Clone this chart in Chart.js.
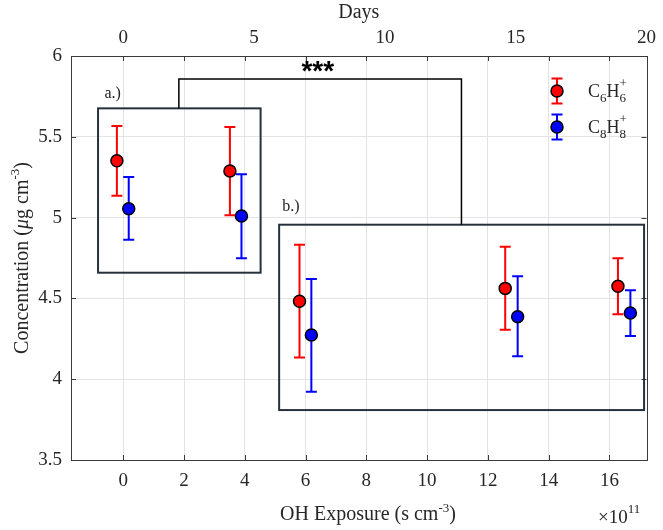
<!DOCTYPE html>
<html><head><meta charset="utf-8">
<script src="https://cdn.jsdelivr.net/npm/chart.js@4"></script>
<style>html,body{margin:0;padding:0;background:#fff}#wrap{width:663px;height:530px}</style>
</head><body><div id="wrap"><canvas id="c" width="663" height="530"></canvas></div>
<script>
// ---- data ----
const exposureC6H6 = [-0.21, 3.51, 5.80, 12.57, 16.28];      // ×10^11 s cm^-3
const concC6H6     = [5.352, 5.288, 4.482, 4.562, 4.575];
const lowC6H6      = [5.135, 5.014, 4.135, 4.306, 4.402];
const highC6H6     = [5.567, 5.561, 4.832, 4.820, 4.748];

const exposureC8H8 = [0.18, 3.89, 6.19, 12.98, 16.69];
const concC8H8     = [5.055, 5.010, 4.274, 4.387, 4.410];
const lowC8H8      = [4.863, 4.748, 3.923, 4.142, 4.267];
const highC8H8     = [5.251, 5.268, 4.620, 4.637, 4.550];

const exposureTicks = [0, 2, 4, 6, 8, 10, 12, 14, 16];
const dayTicks      = [0, 5, 10, 15, 20];
const concTicks     = [3.5, 4, 4.5, 5, 5.5, 6];

// ---- annotation config (data units) ----
const panelA = {x0: -0.83, x1: 4.52, y0: 4.659, y1: 5.676, label: 'a.)', lx: -0.35, ly: 5.765};
const panelB = {x0: 5.13, x1: 17.14, y0: 3.809, y1: 4.956, label: 'b.)', lx: 5.52, ly: 5.066};
const bracket = {xl: 1.83, xr: 11.13, ytop: 5.858, starsX: 6.40, starsY: 5.93, text: '***'};

const SERIF = '"Liberation Serif", "Times New Roman", serif';
const AXIS_COLOR = '#3a3a3a';
const GRID_COLOR = '#e3e3e3';

function richWidth(ctx, parts) {
  let w = 0;
  for (const p of parts) { ctx.font = p.font; if (!p.stackWithPrev) w += ctx.measureText(p.t).width; }
  return w;
}
function drawRich(ctx, parts, x, y, align) {
  let w = richWidth(ctx, parts);
  let cx = align === 'center' ? x - w / 2 : (align === 'right' ? x - w : x);
  ctx.textBaseline = 'alphabetic';
  ctx.textAlign = 'left';
  let prevX = cx;
  for (const p of parts) {
    ctx.font = p.font;
    const px = p.stackWithPrev ? prevX : cx;
    ctx.fillText(p.t, px, y + (p.dy || 0));
    if (!p.stackWithPrev) { prevX = cx; cx += ctx.measureText(p.t).width; }
  }
}

function drawErrorBar(ctx, x, yLo, yHi, color, half) {
  ctx.save();
  ctx.strokeStyle = color; ctx.lineWidth = 2;
  ctx.beginPath();
  ctx.moveTo(x, yLo); ctx.lineTo(x, yHi);
  ctx.moveTo(x - half, yLo); ctx.lineTo(x + half, yLo);
  ctx.moveTo(x - half, yHi); ctx.lineTo(x + half, yHi);
  ctx.stroke();
  ctx.restore();
}

const errorBarPlugin = {
  id: 'errorBars',
  beforeDatasetsDraw(chart) {
    const ctx = chart.ctx, xs = chart.scales.x, ys = chart.scales.y;
    chart.data.datasets.forEach(ds => {
      ds.data.forEach((pt, j) => {
        const x = xs.getPixelForValue(pt.x);
        drawErrorBar(ctx, x, ys.getPixelForValue(ds.errLow[j]), ys.getPixelForValue(ds.errHigh[j]), ds.barColor, 5.5);
      });
    });
  }
};

const decorPlugin = {
  id: 'decor',
  beforeDatasetsDraw(chart) {
    const ctx = chart.ctx, xs = chart.scales.x, ys = chart.scales.y, ca = chart.chartArea;
    ctx.save();
    // frame
    ctx.strokeStyle = AXIS_COLOR; ctx.lineWidth = 1;
    ctx.strokeRect(Math.round(ca.left) + 0.5, Math.round(ca.top) + 0.5, Math.round(ca.right - ca.left), Math.round(ca.bottom - ca.top));
    // inward ticks
    ctx.beginPath();
    exposureTicks.forEach(v => {
      const x = Math.round(xs.getPixelForValue(v)) + 0.5;
      ctx.moveTo(x, ca.bottom); ctx.lineTo(x, ca.bottom - 5);
      ctx.moveTo(x, ca.top); ctx.lineTo(x, ca.top + 5);
    });
    concTicks.forEach(v => {
      const y = Math.round(ys.getPixelForValue(v)) + 0.5;
      ctx.moveTo(ca.left, y); ctx.lineTo(ca.left + 5, y);
      ctx.moveTo(ca.right, y); ctx.lineTo(ca.right - 5, y);
    });
    ctx.stroke();
    // panel boxes
    ctx.strokeStyle = '#26313d'; ctx.lineWidth = 2;
    [panelA, panelB].forEach(b => {
      const x0 = xs.getPixelForValue(b.x0), x1 = xs.getPixelForValue(b.x1);
      const y0 = ys.getPixelForValue(b.y0), y1 = ys.getPixelForValue(b.y1);
      ctx.strokeRect(x0, y1, x1 - x0, y0 - y1);
      ctx.fillStyle = '#222';
      ctx.font = '16px ' + SERIF;
      ctx.textAlign = 'center'; ctx.textBaseline = 'middle';
      ctx.fillText(b.label, xs.getPixelForValue(b.lx), ys.getPixelForValue(b.ly));
    });
    // significance bracket
    ctx.strokeStyle = '#000'; ctx.lineWidth = 1.5;
    ctx.beginPath();
    ctx.moveTo(xs.getPixelForValue(bracket.xl), ys.getPixelForValue(panelA.y1));
    ctx.lineTo(xs.getPixelForValue(bracket.xl), ys.getPixelForValue(bracket.ytop));
    ctx.lineTo(xs.getPixelForValue(bracket.xr), ys.getPixelForValue(bracket.ytop));
    ctx.lineTo(xs.getPixelForValue(bracket.xr), ys.getPixelForValue(panelB.y1));
    ctx.stroke();
    ctx.fillStyle = '#000';
    ctx.font = 'bold 28px "Liberation Sans", Arial, sans-serif';
    ctx.textAlign = 'center'; ctx.textBaseline = 'middle';
    ctx.fillText(bracket.text, xs.getPixelForValue(bracket.starsX), ys.getPixelForValue(bracket.starsY) + 5);
    ctx.restore();
  },
  afterDraw(chart) {
    const ctx = chart.ctx, ca = chart.chartArea;
    ctx.save();
    ctx.fillStyle = '#262626';
    const f = s => s + 'px ' + SERIF;
    // bottom axis title
    drawRich(ctx, [
      {t: 'OH Exposure (s cm', font: f(20)},
      {t: '-3', font: f(13), dy: -8},
      {t: ')', font: f(20)}
    ], 368, 520, 'center');
    // ×10^11
    drawRich(ctx, [
      {t: '\u00d710', font: f(19)},
      {t: '11', font: f(13), dy: -10}
    ], 598, 523, 'left');
    // top axis title
    drawRich(ctx, [{t: 'Days', font: f(20)}], (ca.left + ca.right) / 2, 18, 'center');
    // y axis title
    ctx.save();
    ctx.translate(28, (ca.top + ca.bottom) / 2);
    ctx.rotate(-Math.PI / 2);
    drawRich(ctx, [
      {t: 'Concentration (', font: f(20)},
      {t: '\u03bc', font: 'italic ' + f(20)},
      {t: 'g cm', font: f(20)},
      {t: '-3', font: f(13), dy: -9},
      {t: ')', font: f(20)}
    ], 0, 0, 'center');
    ctx.restore();
    // legend
    const items = [
      {color: '#ff0000', y: 91, sub: '6'},
      {color: '#0000ff', y: 127, sub: '8'}
    ];
    items.forEach(it => {
      drawErrorBar(ctx, 557, it.y - 12.5, it.y + 12.5, it.color, 5.5);
      ctx.beginPath();
      ctx.arc(557, it.y, 6, 0, Math.PI * 2);
      ctx.fillStyle = it.color; ctx.fill();
      ctx.lineWidth = 1.5; ctx.strokeStyle = '#000'; ctx.stroke();
      ctx.fillStyle = '#262626';
      drawRich(ctx, [
        {t: 'C', font: f(18)},
        {t: it.sub, font: f(13), dy: 5},
        {t: 'H', font: f(18)},
        {t: it.sub, font: f(13), dy: 5},
        {t: '+', font: f(13), dy: -10, stackWithPrev: true}
      ], 588, it.y + 6, 'left');
    });
    ctx.restore();
  }
};

const tickFont = {family: SERIF, size: 19};

new Chart(document.getElementById('c'), {
  type: 'scatter',
  data: {
    datasets: [
      {
        label: 'C6H6+',
        data: exposureC6H6.map((x, i) => ({x, y: concC6H6[i]})),
        errLow: lowC6H6, errHigh: highC6H6, barColor: '#ff0000',
        backgroundColor: '#ff0000', borderColor: '#000', pointBorderWidth: 1.5, pointRadius: 6,
        xAxisID: 'x', yAxisID: 'y'
      },
      {
        label: 'C8H8+',
        data: exposureC8H8.map((x, i) => ({x, y: concC8H8[i]})),
        errLow: lowC8H8, errHigh: highC8H8, barColor: '#0000ff',
        backgroundColor: '#0000ff', borderColor: '#000', pointBorderWidth: 1.5, pointRadius: 6,
        xAxisID: 'x', yAxisID: 'y'
      }
    ]
  },
  options: {
    responsive: false,
    animation: false,
    devicePixelRatio: 1,
    layout: {padding: {left: 0, right: 11, top: 0, bottom: 0}},
    plugins: {legend: {display: false}, tooltip: {enabled: false}},
    scales: {
      x: {
        type: 'linear', position: 'bottom', min: -1.72, max: 17.22,
        grid: {color: GRID_COLOR, drawTicks: false},
        border: {display: false},
        ticks: {font: tickFont, color: '#262626', padding: 10, includeBounds: false, maxRotation: 0},
        afterBuildTicks: s => { s.ticks = exposureTicks.map(v => ({value: v})); },
        afterFit: s => { s.height = 70; }
      },
      x2: {
        type: 'linear', position: 'top', min: -2, max: 20,
        grid: {display: false, drawTicks: false},
        border: {display: false},
        ticks: {font: tickFont, color: '#262626', padding: 7, includeBounds: false, maxRotation: 0},
        afterBuildTicks: s => { s.ticks = dayTicks.map(v => ({value: v})); },
        afterFit: s => { s.height = 56; }
      },
      y: {
        type: 'linear', position: 'left', min: 3.5, max: 6,
        grid: {color: GRID_COLOR, drawTicks: false},
        border: {display: false},
        ticks: {font: tickFont, color: '#262626', padding: 9, includeBounds: false, callback: v => String(v)},
        afterBuildTicks: s => { s.ticks = concTicks.map(v => ({value: v})); },
        afterFit: s => { s.width = 71; }
      }
    }
  },
  plugins: [decorPlugin, errorBarPlugin]
});
</script>
</body></html>
